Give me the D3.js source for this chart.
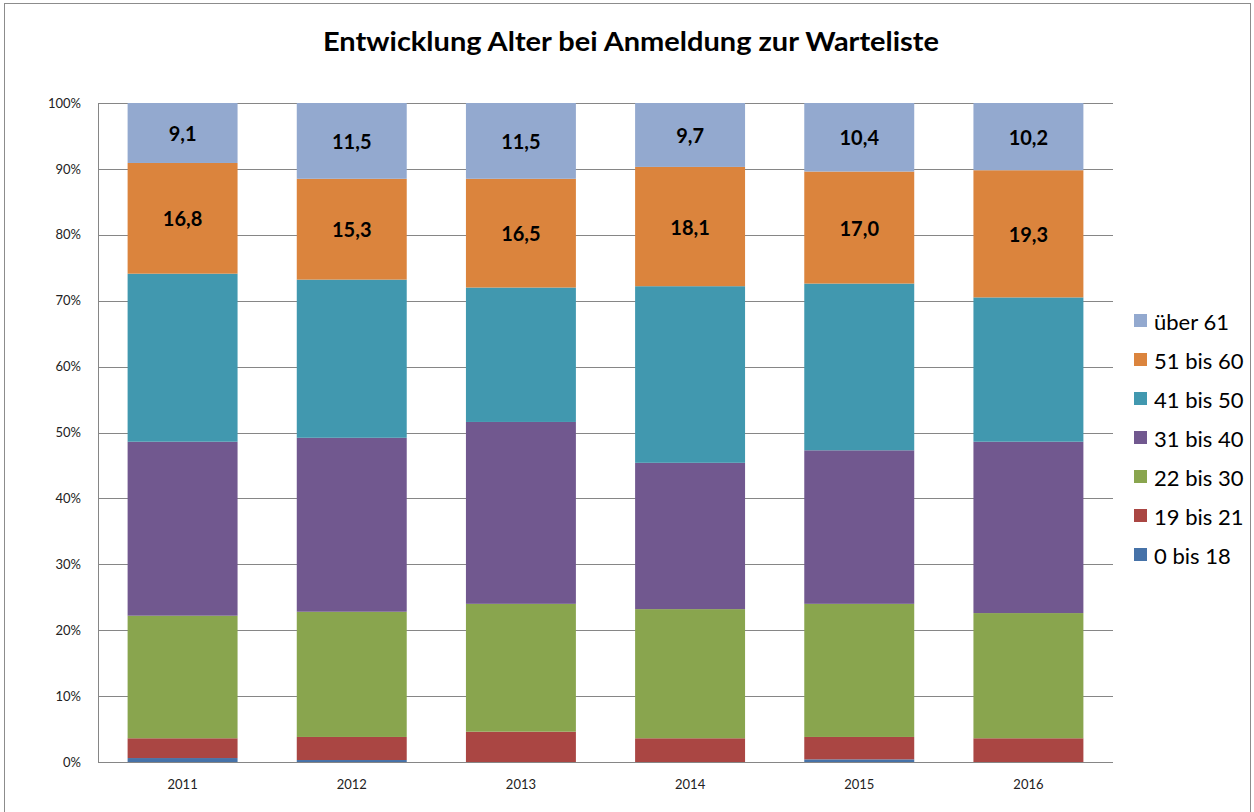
<!DOCTYPE html>
<html><head><meta charset="utf-8">
<script src="https://cdn.jsdelivr.net/npm/d3@7"></script>
<style>body{margin:0;background:#fff}svg{display:block}</style>
</head><body>
<script>
const years = ["2011","2012","2013","2014","2015","2016"];
const seriesNames = ["0 bis 18","19 bis 21","22 bis 30","31 bis 40","41 bis 50","51 bis 60","über 61"];
const s0_18   = [0.6, 0.3, 0.0, 0.0, 0.4, 0.0];
const s19_21  = [3.0, 3.5, 4.6, 3.6, 3.4, 3.6];
const s22_30  = [18.6, 19.0, 19.4, 19.6, 20.2, 19.0];
const s31_40  = [26.4, 26.4, 27.6, 22.2, 23.3, 26.0];
const s41_50  = [25.5, 24.0, 20.4, 26.8, 25.3, 21.9];
const s51_60  = [16.8, 15.3, 16.5, 18.1, 17.0, 19.3];
const sUeber61= [9.1, 11.5, 11.5, 9.7, 10.4, 10.2];
const yTicks = [0,10,20,30,40,50,60,70,80,90,100];
const labelledSeries = ["51 bis 60","über 61"];
const colors = ["#4672A8","#AA4643","#89A54E","#71588F","#4198AF","#DB843D","#93A9CF"];

const allSeries = [s0_18,s19_21,s22_30,s31_40,s41_50,s51_60,sUeber61];
const table = years.map((y,i)=>{const o={year:y}; seriesNames.forEach((n,k)=>o[n]=allSeries[k][i]); return o;});

const W=1254,H=812;
const svg=d3.select("body").append("svg").attr("width",W).attr("height",H);
const font="Lato, 'Open Sans', sans-serif";
svg.append("rect").attr("x",4.5).attr("y",3.5).attr("width",1246).attr("height",820).attr("fill","#fff").attr("stroke","#8c8c8c");

const L=98,T=103,R=1113,B=762;
const x=d3.scaleBand().domain(years).range([L,R]).paddingInner(0.35).paddingOuter(0.175);
const y=d3.scaleLinear().domain([0,100]).range([B,T]);

// gridlines
svg.append("g").selectAll("line").data(yTicks).join("line")
  .attr("x1",L).attr("x2",R).attr("y1",d=>Math.round(y(d))+0.5).attr("y2",d=>Math.round(y(d))+0.5)
  .attr("stroke","#868686").attr("stroke-width",1);
svg.append("line").attr("x1",L+0.5).attr("x2",L+0.5).attr("y1",T).attr("y2",B).attr("stroke","#868686");

const stack=d3.stack().keys(seriesNames)(table);
const g=svg.append("g");
stack.forEach((layer,k)=>{
  g.append("g").attr("fill",colors[k]).selectAll("rect").data(layer).join("rect")
   .attr("x",d=>x(d.data.year)).attr("width",x.bandwidth())
   .attr("y",d=>y(d[1])).attr("height",d=>Math.max(0,y(d[0])-y(d[1])));
});
stack.filter(l=>labelledSeries.includes(l.key)).forEach(layer=>{
  svg.append("g").selectAll("text").data(layer).join("text")
   .attr("x",d=>x(d.data.year)+x.bandwidth()/2).attr("y",d=>(y(d[0])+y(d[1]))/2)
   .attr("text-anchor","middle").attr("dominant-baseline","central")
   .attr("font-family",font).attr("font-weight","bold").attr("font-size",20).attr("fill","#000")
   .text(d=>(d[1]-d[0]).toFixed(1).replace(".",","));
});

// x axis line
svg.append("line").attr("x1",L).attr("x2",R).attr("y1",B+0.5).attr("y2",B+0.5).attr("stroke","#868686");

// y labels
const yAxis=d3.axisLeft(y).tickValues(yTicks).tickSize(0).tickPadding(0).tickFormat(d=>d+"%");
const ya=svg.append("g").attr("transform",`translate(${L-17},0)`).call(yAxis);
ya.select(".domain").remove();
ya.selectAll("text").attr("font-family",font).attr("font-size",13).attr("fill","#222");

const xAxis=d3.axisBottom(x).tickSize(0).tickPadding(0);
const xa=svg.append("g").attr("transform",`translate(0,${B+18})`).call(xAxis);
xa.select(".domain").remove();
xa.selectAll("text").attr("font-family",font).attr("font-size",13).attr("fill","#222");

// title
svg.append("text").attr("x",631).attr("y",51).attr("text-anchor","middle")
  .attr("font-family",font).attr("font-weight","bold").attr("font-size",27).attr("fill","#000")
  .attr("textLength",616).attr("lengthAdjust","spacingAndGlyphs")
  .text("Entwicklung Alter bei Anmeldung zur Warteliste");

// legend
const legOrder=seriesNames.slice().reverse();
const lg=svg.append("g");
legOrder.forEach((n,i)=>{
  const cy=321+i*39;
  const k=seriesNames.indexOf(n);
  lg.append("rect").attr("x",1134).attr("y",cy-7).attr("width",13).attr("height",13).attr("fill",colors[k]);
  lg.append("text").attr("x",1154).attr("y",cy).attr("dominant-baseline","central")
    .attr("font-family",font).attr("font-size",22).attr("fill","#000").text(n);
});
</script>
</body></html>
